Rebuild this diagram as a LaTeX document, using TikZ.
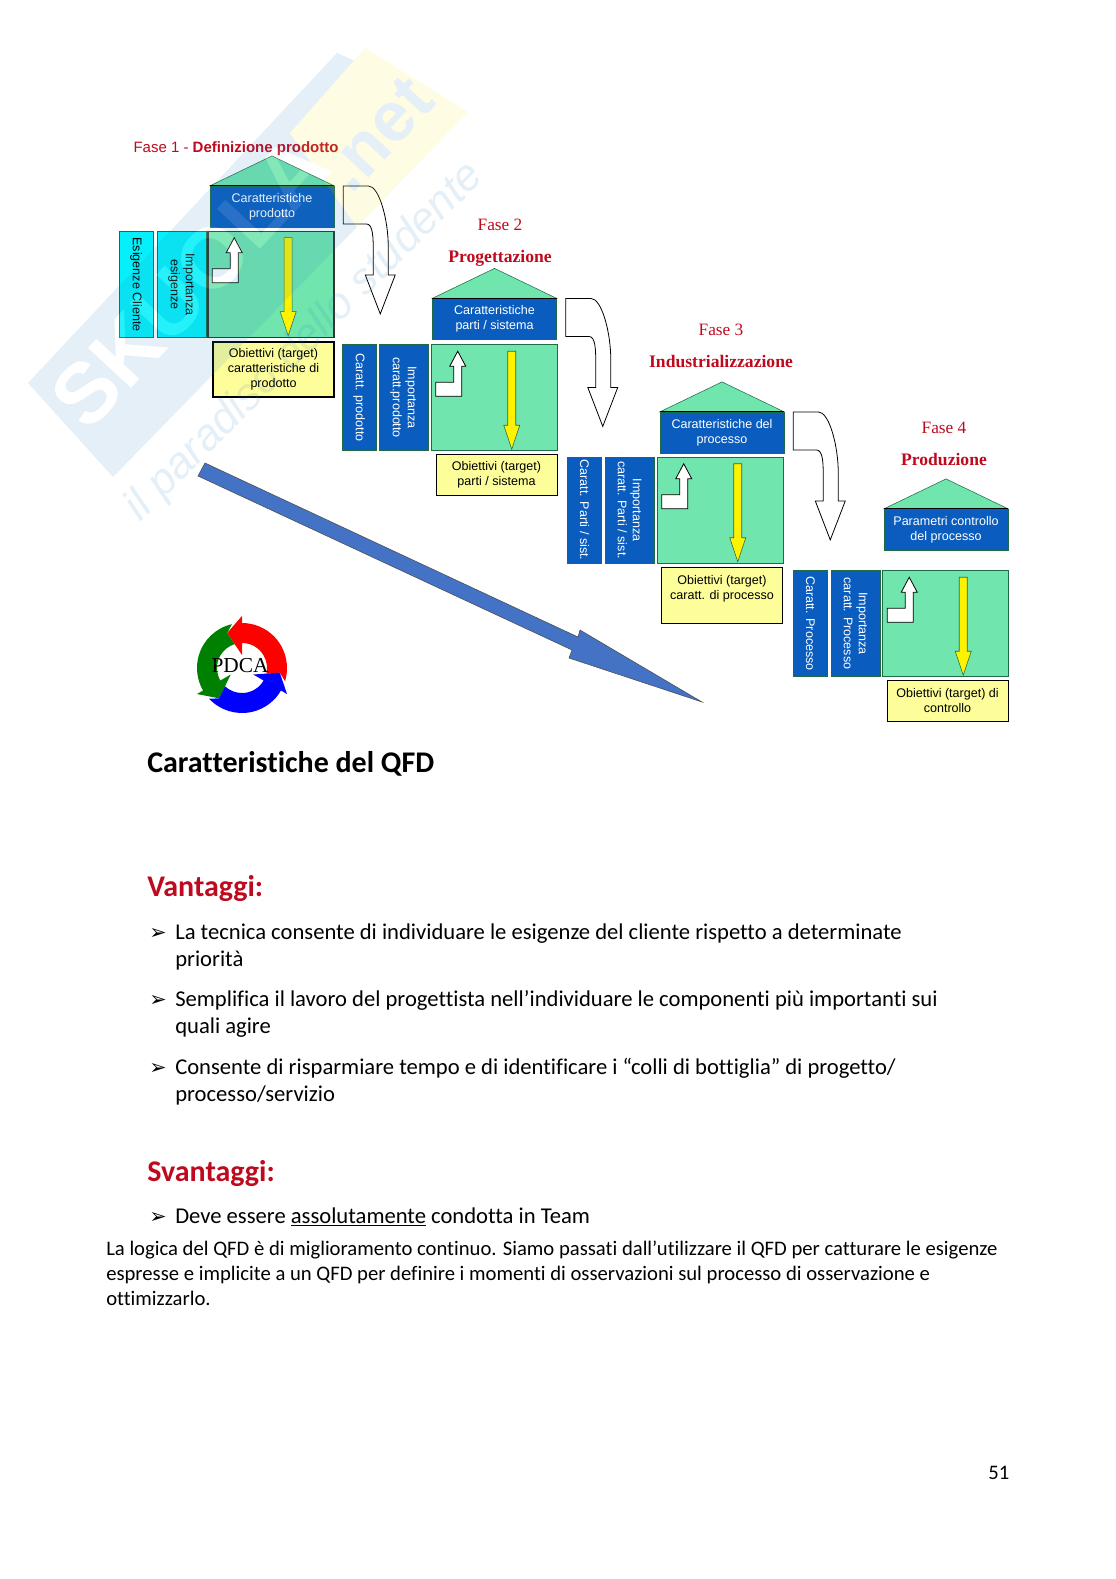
\documentclass[tikz,border=0pt]{standalone}
\usepackage{fontspec}
\setmainfont{Carlito}[Ligatures=NoCommon]
\setsansfont{Liberation Sans}
\newfontfamily\timesfont{Liberation Serif}
\newfontfamily\arrowfont{DejaVu Sans}
\usetikzlibrary{
  positioning,
  calc
}
\definecolor{qfdBlue}{HTML}{0A5DBE}
\definecolor{qfdCyan}{HTML}{05F0FA}
\definecolor{qfdGreen}{HTML}{70E5AD}
\definecolor{qfdEdge}{HTML}{1F6B45}
\definecolor{qfdYellow}{HTML}{FDFD99}
\definecolor{qfdRed}{HTML}{BE0A1E}
\definecolor{qfdArrow}{HTML}{4472C4}
\definecolor{wmBlue}{HTML}{2E86C1}
\definecolor{wmYellow}{HTML}{F7E41E}

\begin{document}
\begin{tikzpicture}[
  x=0.75pt, y=-0.75pt,
  every node/.style={align=center, inner sep=0pt},
  boxtext/.style={font=\sffamily\fontsize{9.4}{11.25}\selectfont},
  headbox/.style={
    rectangle, boxtext, draw=qfdEdge, fill=qfdBlue, text=white,
    minimum width=93pt, minimum height=30.5pt,
    execute at begin node={\rule{0pt}{9.5pt}}
  },
  sidea/.style={
    rectangle, boxtext, draw=qfdEdge, fill=qfdBlue, text=white, rotate=-90,
    minimum width=79.5pt, minimum height=25.5pt
  },
  sideb/.style={sidea, minimum height=36.75pt},
  cyana/.style={sidea, fill=qfdCyan, text=black, draw=qfdEdge},
  cyanb/.style={sideb, fill=qfdCyan, text=black, draw=qfdEdge},
  greenbox/.style={
    rectangle, draw=qfdEdge, fill=qfdGreen,
    minimum width=94.5pt, minimum height=79.5pt
  },
  target/.style={
    rectangle, boxtext, draw=black, fill=qfdYellow,
    minimum width=90.75pt
  },
  roof/.style={draw=qfdEdge, fill=qfdGreen},
  bent/.style={draw=black, fill=white, semithick},
  down/.style={draw=qfdEdge, fill=yellow},
  flow/.style={draw=black, fill=white, semithick},
  fasesans/.style={font=\sffamily\fontsize{11.25}{13}\selectfont, text=qfdRed},
  faseserif/.style={font=\timesfont\fontsize{13}{15}\selectfont, text=qfdRed},
  faseserifb/.style={font=\timesfont\bfseries\fontsize{13.2}{15}\selectfont, text=qfdRed},
  title/.style={anchor=base west, font=\bfseries\fontsize{22.5}{26}\selectfont},
  redtitle/.style={title, text=qfdRed},
  body/.style={anchor=base west, font=\fontsize{15.5}{18}\selectfont},
  item/.style={anchor=base west, font=\fontsize{16.96}{20}\selectfont}
]
 \useasboundingbox (0,0) rectangle (1116,1579);

 % Fase 1
 \node[fasesans] (name1) at (236,149) {Fase 1 - \textbf{Definizione prodotto}};
 \node[headbox] (head1) at (272,206.5) {Caratteristiche\\prodotto};
 \node[greenbox, very thick, draw=black!80] (green1) at (271,284.5) {};
 \node[cyana] (left1) at (136,284.5) {Esigenze Cliente};
 \node[cyanb] (right1) at (181.5,284.5) {Importanza\\esigenze};
 \node[target, thick, minimum height=41.25pt] (goal1) at (273.5,369.5)
  {Obiettivi (target)\\caratteristiche di\\prodotto};

 % Fase 2
 \node[faseserif] (name2) at (500,225) {Fase 2};
 \node[faseserifb] (sub2) at (500,258) {Progettazione};
 \node[headbox] (head2) at (494.5,319) {Caratteristiche\\parti / sistema};
 \node[greenbox] (green2) at (494,397.5) {};
 \node[sidea] (left2) at (359,397.5) {Caratt. prodotto};
 \node[sideb] (right2) at (403.5,397.5) {Importanza\\caratt.prodotto};
 \node[target, minimum height=30.75pt] (goal2) at (496.5,475)
  {Obiettivi (target)\\parti / sistema};

 % Fase 3
 \node[faseserif] (name3) at (721,330) {Fase 3};
 \node[faseserifb] (sub3) at (721,361.5) {Industrializzazione};
 \node[headbox] (head3) at (722,432.5) {Caratteristiche del\\processo};
 \node[greenbox] (green3) at (720,510) {};
 \node[sidea] (left3) at (584.5,510) {Caratt. Parti / sist.};
 \node[sideb] (right3) at (629.5,510) {Importanza\\caratt. Parti / sist.};
 \node[target, minimum height=42pt] (goal3) at (722,595)
  {Obiettivi (target)\\caratt. di processo\\~};

 % Fase 4
 \node[faseserif] (name4) at (944,428) {Fase 4};
 \node[faseserifb] (sub4) at (944,459) {Produzione};
 \node[headbox] (head4) at (946,529.5) {Parametri controllo\\del processo};
 \node[greenbox] (green4) at (945.5,623.5) {};
 \node[sidea] (left4) at (810.5,623.5) {Caratt. Processo};
 \node[sideb] (right4) at (855.5,623.5) {Importanza\\caratt. Processo};
 \node[target, minimum height=30.75pt] (goal4) at (947.5,700.5)
  {Obiettivi (target) di\\controllo};

 % Roofs
 \foreach \n in {1,2,3,4} {
  \path[roof] (head\n.north west) -- ($(head\n.north)+(0,-30)$)
   -- (head\n.north east) -- cycle;
  \draw[thick, black] (head\n.north west) -- (head\n.north east);
 }

 % Arrows inside each matrix
 \foreach \n in {1,2,3,4} {
  \begin{scope}[shift={(green\n.north west)}]
   \path[bent] (5,38) -- (23,38) -- (23,22) -- (19,22) -- (27,7)
    -- (35,22) -- (31,22) -- (31,52) -- (5,52) -- cycle;
   \path[down] (77,7) -- (85,7) -- (85,81) -- (89,81) -- (81,105)
    -- (73,81) -- (77,81) -- cycle;
  \end{scope}
 }

 % Arrows from one phase to the next
 \foreach \n in {1,2,3} {
  \begin{scope}[shift={(head\n.north east)}]
   \path[flow] (9,0) -- (34,0) .. controls (45,0) and (54,34) .. (54,61)
    -- (54,89) -- (61,89) -- (46,128) -- (31,89) -- (39,89) -- (39,67)
    .. controls (39,52) and (39,38) .. (32,38) -- (9,38) -- cycle;
  \end{scope}
 }

 % Long blue arrow
 \path[draw=black!70, fill=qfdArrow] (205,463) -- (578,637) -- (580,630)
  -- (702,702) -- (569,658) -- (572,650) -- (198,476) -- cycle;

 % PDCA ring
 \foreach \a/\c in {0/red, 120/green!50!black, 240/blue} {
  \begin{scope}[shift={(242,668)}, x=0.75pt, y=0.75pt, rotate=\a]
   \fill[\c] (-17:45) arc[start angle=-17, end angle=90, radius=45]
    -- (90:52) -- (113:38) -- (90:13) -- (90:25)
    arc[start angle=90, end angle=-13, radius=25] -- (-7:38) -- cycle;
  \end{scope}
 }
 \node[font=\timesfont\fontsize{16}{18}\selectfont] (pdca) at (240,666) {PDCA};

 % Page text
 \node[title] (qfd) at (147,772) {Caratteristiche del QFD};
 \node[redtitle] (pro) at (147,896) {Vantaggi:};
 \node[body] (mark1) at (149,939) {\arrowfont\bfseries ➢};
 \node[item] (pro1a) at (175,939) {La tecnica consente di individuare le esigenze del cliente rispetto a determinate};
 \node[item] (pro1b) at (175,966) {priorità};
 \node[body] (mark2) at (149,1006) {\arrowfont\bfseries ➢};
 \node[item] (pro2a) at (175,1006) {Semplifica il lavoro del progettista nell’individuare le componenti più importanti sui};
 \node[item] (pro2b) at (175,1033) {quali agire};
 \node[body] (mark3) at (149,1074) {\arrowfont\bfseries ➢};
 \node[item] (pro3a) at (175,1074) {Consente di risparmiare tempo e di identificare i “colli di bottiglia” di progetto/};
 \node[item] (pro3b) at (175,1101) {processo/servizio};
 \node[redtitle] (con) at (147,1181) {Svantaggi:};
 \node[body] (mark4) at (149,1223) {\arrowfont\bfseries ➢};
 \node[item] (con1) at (175,1223) {Deve essere \underline{assolutamente} condotta in Team};
 \node[body] (log1) at (106,1255) {La logica del QFD è di miglioramento continuo. Siamo passati dall'utilizzare il QFD per catturare le esigenze};
 \node[body] (log2) at (106,1280) {espresse e implicite a un QFD per definire i momenti di osservazioni sul processo di osservazione e};
 \node[body] (log3) at (106,1305) {ottimizzarlo.};
 \node[body] (page) at (988,1479) {51};

 % Watermark
 \begin{scope}[transparency group, opacity=.13]
  \fill[wmBlue] (28,383) -- (337,53) -- (360,63) -- (290,133) -- (357,227)
   -- (113,477) -- cycle;
  \fill[wmYellow] (365,48) -- (468,112) -- (357,227) -- (290,133) -- cycle;
  \node[rotate=47, text=white, font=\sffamily\bfseries\fontsize{64}{64}\selectfont]
   (brand) at (190,282) {SKUOLA};
  \node[rotate=47, text=wmBlue, font=\sffamily\bfseries\fontsize{53}{53}\selectfont]
   (net) at (378,134) {.net};
  \node[rotate=45, text=wmBlue, font=\sffamily\itshape\fontsize{33}{33}\selectfont]
   (motto) at (305,342) {il paradiso dello studente};
 \end{scope}
\end{tikzpicture}
\end{document}
